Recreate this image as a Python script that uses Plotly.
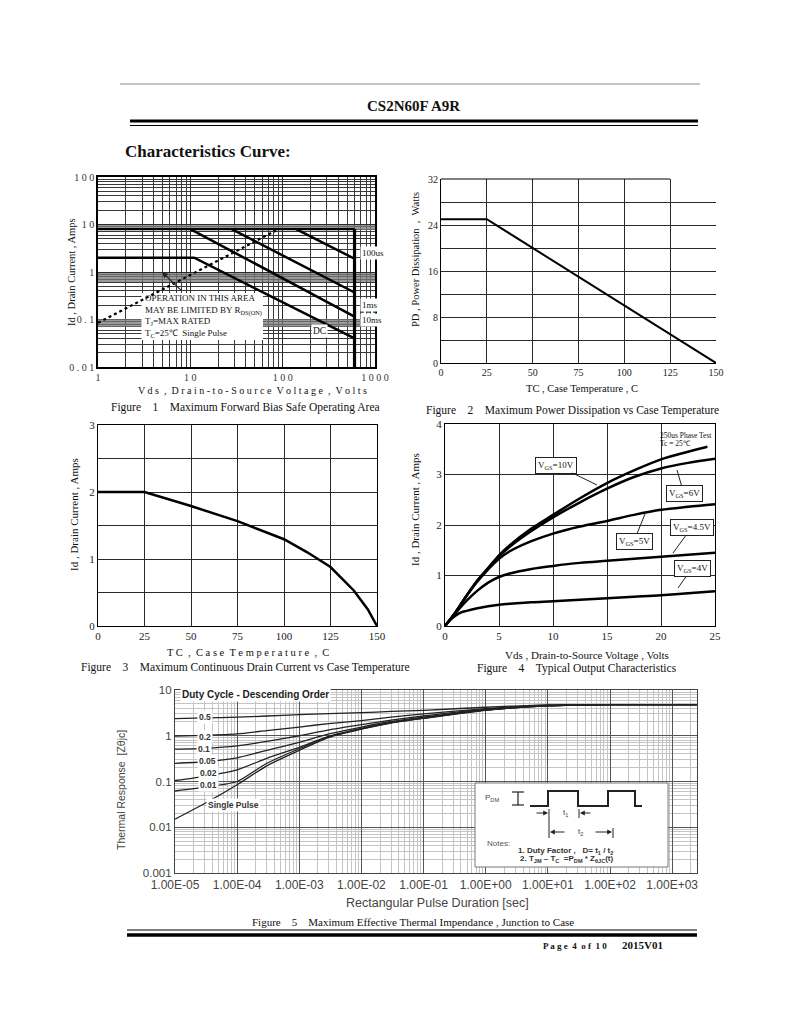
import math
import plotly.graph_objects as go

W, H = 800, 1035
OFF = 8  # page body margin of the html page
SERIF = "Liberation Serif, Times New Roman, serif"
SANS = "Liberation Sans, Arial, sans-serif"
NARROW = "Liberation Sans Narrow, Liberation Sans, Arial, sans-serif"

# ---------------- data ----------------
# Figure 1 : Safe operating area (log-log)
soa_vds_ticks = [1, 10, 100, 1000]
soa_vds_labels = ["1", "1 0", "1 0 0", "1 0 0 0"]
soa_id_ticks = [0.01, 0.1, 1, 10, 100]
soa_id_labels = ["0 . 0 1", "0 . 1", "1", "1 0", "1 0 0"]
rds_vds = [1, 85]
rds_id = [0.085, 7.5]
idm_vds = [1, 600]
idm_id = [8, 8]
bv_vds = [600, 600]
bv_id = [0.01, 8]
us100_vds = [140, 600]
us100_id = [8, 1.9]
ms1_vds = [28, 600]
ms1_id = [8, 0.37]
ms10_vds = [10, 600]
ms10_id = [8, 0.115]
dc_vds = [1, 11, 600]
dc_id = [2, 2, 0.04]

# Figure 2 : power dissipation
pd_tc = [0, 25, 150]
pd_watts = [25, 25, 0]
temp_ticks = [0, 25, 50, 75, 100, 125, 150]

# Figure 3 : continuous drain current
id_tc = [0, 25, 50, 75, 100, 112.5, 125, 137.5, 145, 150]
id_amps = [2, 2, 1.79, 1.565, 1.295, 1.1, 0.88, 0.53, 0.25, 0]

# Figure 4 : output characteristics
vds_10v = [0, 1, 2, 3, 4, 5, 6, 8, 10, 12.5, 15, 17.5, 20, 22.5, 24.3]
id_10v = [0, 0.28, 0.6, 0.9, 1.15, 1.4, 1.6, 1.93, 2.2, 2.53, 2.83, 3.08, 3.3, 3.45, 3.55]
vds_6v = [0, 1, 2, 3, 4, 5, 6, 8, 10, 12.5, 15, 17.5, 20, 22.5, 25]
id_6v = [0, 0.28, 0.6, 0.9, 1.14, 1.38, 1.57, 1.88, 2.15, 2.45, 2.72, 2.95, 3.12, 3.23, 3.31]
vds_5v = [0, 1, 2, 3, 4, 5, 6, 8, 10, 12.5, 15, 17.5, 20, 22.5, 25]
id_5v = [0, 0.28, 0.6, 0.88, 1.12, 1.33, 1.48, 1.68, 1.83, 1.97, 2.08, 2.2, 2.3, 2.36, 2.41]
vds_45v = [0, 1, 2, 3, 4, 5, 6, 8, 10, 12.5, 15, 17.5, 20, 22.5, 25]
id_45v = [0, 0.26, 0.5, 0.7, 0.86, 0.97, 1.04, 1.13, 1.19, 1.25, 1.29, 1.33, 1.37, 1.41, 1.45]
vds_4v = [0, 0.5, 1, 1.5, 2, 3, 4, 5, 6, 8, 10, 12.5, 15, 17.5, 20, 22.5, 25]
id_4v = [0, 0.12, 0.21, 0.27, 0.3, 0.35, 0.39, 0.42, 0.44, 0.47, 0.49, 0.52, 0.55, 0.58, 0.61, 0.65, 0.69]

# Figure 5 : transient thermal impedance
zth_t = [1e-5, 3e-5, 1e-4, 3e-4, 1e-3, 3e-3, 1e-2, 3e-2, 1e-1, 1, 10, 100, 1000, 2500]
zth_d05 = [2.37, 2.45, 2.55, 2.7, 2.9, 3.05, 3.2, 3.4, 3.6, 4.2, 4.75, 4.8, 4.8, 4.8]
zth_d02 = [0.98, 1.02, 1.1, 1.3, 1.55, 1.85, 2.15, 2.55, 3.0, 3.9, 4.65, 4.8, 4.8, 4.8]
zth_d01 = [0.51, 0.53, 0.6, 0.75, 1.0, 1.35, 1.75, 2.2, 2.7, 3.8, 4.6, 4.8, 4.8, 4.8]
zth_d005 = [0.25, 0.27, 0.33, 0.48, 0.72, 1.1, 1.55, 2.05, 2.55, 3.7, 4.55, 4.8, 4.8, 4.8]
zth_d002 = [0.105, 0.13, 0.18, 0.32, 0.56, 0.98, 1.45, 1.95, 2.45, 3.65, 4.5, 4.8, 4.8, 4.8]
zth_d001 = [0.062, 0.075, 0.1, 0.25, 0.52, 0.95, 1.42, 1.92, 2.42, 3.62, 4.5, 4.8, 4.8, 4.8]
zth_single = [0.015, 0.033, 0.085, 0.22, 0.48, 0.92, 1.4, 1.9, 2.4, 3.6, 4.5, 4.8, 4.8, 4.8]
zth_xticks = [1e-5, 1e-4, 1e-3, 1e-2, 1e-1, 1, 10, 100, 1000]
zth_xlabels = ["1.00E-05", "1.00E-04", "1.00E-03", "1.00E-02", "1.00E-01",
               "1.00E+00", "1.00E+01", "1.00E+02", "1.00E+03"]
zth_yticks = [0.001, 0.01, 0.1, 1, 10]
zth_ylabels = ["0.001", "0.01", "0.1", "1", "10"]


# ---------------- helpers ----------------
def X(p):
    return (p - OFF) / W


def Y(p):
    return 1 - (p - OFF) / H


def log_minor(lo, hi):
    return [m * 10 ** k for k in range(lo, hi) for m in range(2, 10)]


def spaced(s):
    return "\u00a0\u00a0".join(" ".join(list(w)) for w in s.split(" "))


def line(x, y, ax, width=2.5, color="black", dash=None):
    return go.Scatter(x=x, y=y, xaxis=ax[0], yaxis=ax[1], mode="lines",
                      line=dict(color=color, width=width, dash=dash),
                      hoverinfo="skip", showlegend=False)


annotations = []


def text(t, x, y, size=10, family=SERIF, color="#111", xanchor="center",
         yanchor="middle", angle=0, bg=None, align="center", **kw):
    a = dict(text=t, x=X(x), y=Y(y), xref="paper", yref="paper",
             showarrow=False, font=dict(size=size, family=family, color=color),
             xanchor=xanchor, yanchor=yanchor, textangle=angle, align=align)
    if bg:
        a["bgcolor"] = bg
    a.update(kw)
    annotations.append(a)


def arrow(tx, ty, ax, ay, head=2, width=1, color="#222", size=1):
    annotations.append(dict(text="", x=X(tx), y=Y(ty), xref="paper", yref="paper",
                            showarrow=True, ax=ax, ay=ay, arrowhead=head,
                            arrowwidth=width, arrowcolor=color, arrowsize=size))


shapes = []


def rect(x0, y0, x1, y1, fill=None, lc=None, lw=0, layer="between"):
    shapes.append(dict(type="rect", xref="paper", yref="paper",
                       x0=X(x0), x1=X(x1), y0=Y(y1), y1=Y(y0),
                       fillcolor=fill, line=dict(color=lc or "rgba(0,0,0,0)", width=lw),
                       layer=layer))


# fig 1 plot-area pixel box; decoration drawn inside the subplot (between grid and curves)
F1 = (98, 375, 177, 367)


def f1x(p):
    L, R, T, B = F1
    return 10 ** ((p - L) / (R - L) * 3)


def f1y(p):
    L, R, T, B = F1
    return 10 ** (2 - (p - T) / (B - T) * 4)


def rect1(x0, y0, x1, y1, fill):
    shapes.append(dict(type="rect", xref="x", yref="y",
                       x0=f1x(x0), x1=f1x(x1), y0=f1y(y1), y1=f1y(y0),
                       fillcolor=fill, line=dict(width=0), layer="between"))


def hline(x0, x1, y, color="black", w=1, layer="above", dash=None):
    shapes.append(dict(type="line", xref="paper", yref="paper", x0=X(x0), x1=X(x1),
                       y0=Y(y), y1=Y(y), line=dict(color=color, width=w, dash=dash),
                       layer=layer))


def vline(x, y0, y1, color="black", w=1, layer="above"):
    shapes.append(dict(type="line", xref="paper", yref="paper", x0=X(x), x1=X(x),
                       y0=Y(y0), y1=Y(y1), line=dict(color=color, width=w), layer=layer))


traces = []
# Fig 1
A1 = ("x", "y")
traces += [line(idm_vds, idm_id, A1, 2.2),
           line(bv_vds, bv_id, A1, 3.2),
           line(us100_vds, us100_id, A1, 2.5),
           line(ms1_vds, ms1_id, A1, 2.5),
           line(ms10_vds, ms10_id, A1, 2.5),
           line(dc_vds, dc_id, A1, 2.5),
           line(rds_vds, rds_id, A1, 2.2, dash="dot")]
# Fig 2
A2 = ("x2", "y2")
traces.append(line(pd_tc, pd_watts, A2, 2))
# Fig 3
A3 = ("x3", "y3")
traces.append(line(id_tc, id_amps, A3, 2.5))
# Fig 4
A4 = ("x4", "y4")
for vx, vy in [(vds_10v, id_10v), (vds_6v, id_6v), (vds_5v, id_5v),
               (vds_45v, id_45v), (vds_4v, id_4v)]:
    tr = line(vx, vy, A4, 2.5)
    tr.line.shape = "spline"
    traces.append(tr)
# Fig 5
A5 = ("x5", "y5")
for zy in [zth_d05, zth_d02, zth_d01, zth_d005, zth_d002, zth_d001, zth_single]:
    tr = line(zth_t, zy, A5, 1.3, color="#222")
    tr.line.shape = "spline"
    tr.line.smoothing = 0.6
    traces.append(tr)

fig = go.Figure(data=traces)

GRID = "#2a2a2a"
tick_serif = dict(family=SERIF, size=10, color="#222")

axes = dict(
    # Fig 1
    xaxis=dict(domain=[X(98), X(375)], anchor="y", type="log", range=[0, 3],
               tickmode="array", tickvals=soa_vds_ticks, ticktext=soa_vds_labels,
               showgrid=True, gridcolor=GRID, gridwidth=1,
               minor=dict(tickmode="array", tickvals=log_minor(0, 3), showgrid=True,
                          gridcolor="#3a3a3a", gridwidth=1),
               showline=True, linecolor="black", linewidth=1.5, mirror=True,
               ticks="", zeroline=False, tickfont=dict(family=SERIF, size=10, color="#333")),
    yaxis=dict(domain=[Y(367), Y(177)], anchor="x", type="log", range=[-2, 2],
               tickmode="array", tickvals=soa_id_ticks, ticktext=soa_id_labels,
               showgrid=True, gridcolor=GRID, gridwidth=1,
               minor=dict(tickmode="array", tickvals=log_minor(-2, 2), showgrid=True,
                          gridcolor="#3a3a3a", gridwidth=1),
               showline=True, linecolor="black", linewidth=1.5, mirror=True,
               ticks="", zeroline=False, tickfont=dict(family=SERIF, size=10, color="#333")),
    # Fig 2
    xaxis2=dict(domain=[X(441), X(716)], anchor="y2", range=[0, 150],
                tickmode="array", tickvals=temp_ticks, showgrid=True, gridcolor=GRID,
                gridwidth=1.2, showline=True, linecolor="black", linewidth=1.2,
                ticks="", zeroline=False, tickfont=tick_serif),
    yaxis2=dict(domain=[Y(363), Y(179)], anchor="x2", range=[0, 32], dtick=8,
                showgrid=True, gridcolor=GRID, gridwidth=1.2,
                minor=dict(dtick=4, showgrid=True, gridcolor=GRID, gridwidth=1.2),
                showline=True, linecolor="black", linewidth=1.2,
                ticks="", zeroline=False, tickfont=tick_serif),
    # Fig 3
    xaxis3=dict(domain=[X(98), X(377)], anchor="y3", range=[0, 150],
                tickmode="array", tickvals=temp_ticks, showgrid=True, gridcolor=GRID,
                gridwidth=1.2, showline=True, linecolor="black", linewidth=1.2,
                mirror=True, ticks="", zeroline=False,
                tickfont=dict(family=SERIF, size=11, color="#222")),
    yaxis3=dict(domain=[Y(626), Y(425)], anchor="x3", range=[0, 3], dtick=1,
                showgrid=True, gridcolor=GRID, gridwidth=1.2,
                minor=dict(dtick=0.5, showgrid=True, gridcolor=GRID, gridwidth=1.2),
                showline=True, linecolor="black", linewidth=1.2, mirror=True,
                ticks="", zeroline=False, tickfont=dict(family=SERIF, size=11, color="#222")),
    # Fig 4
    xaxis4=dict(domain=[X(445), X(715)], anchor="y4", range=[0, 25], dtick=5,
                showgrid=True, gridcolor=GRID, gridwidth=1.2, showline=True,
                linecolor="black", linewidth=1.2, mirror=True, ticks="",
                zeroline=False, tickfont=dict(family=SERIF, size=11, color="#222")),
    yaxis4=dict(domain=[Y(626), Y(424)], anchor="x4", range=[0, 4], dtick=1,
                showgrid=True, gridcolor=GRID, gridwidth=1.2, showline=True,
                linecolor="black", linewidth=1.2, mirror=True, ticks="",
                zeroline=False, tickfont=dict(family=SERIF, size=11, color="#222")),
    # Fig 5
    xaxis5=dict(domain=[X(175), X(697)], anchor="y5", type="log", range=[-5, 3.4],
                tickmode="array", tickvals=zth_xticks, ticktext=zth_xlabels,
                showgrid=True, gridcolor="#555", gridwidth=1.2,
                minor=dict(tickmode="array", tickvals=log_minor(-5, 4), showgrid=True,
                           gridcolor="#c4c4c4", gridwidth=1),
                showline=True, linecolor="#444", linewidth=1.2, mirror=True,
                ticks="", zeroline=False, tickfont=dict(family=SANS, size=12, color="#444")),
    yaxis5=dict(domain=[Y(873), Y(690)], anchor="x5", type="log", range=[-3, 1],
                tickmode="array", tickvals=zth_yticks, ticktext=zth_ylabels,
                showgrid=True, gridcolor="#555", gridwidth=1.2,
                minor=dict(tickmode="array", tickvals=log_minor(-3, 1), showgrid=True,
                           gridcolor="#c4c4c4", gridwidth=1),
                showline=True, linecolor="#444", linewidth=1.2, mirror=True,
                ticks="", zeroline=False, tickfont=dict(family=SANS, size=11.5, color="#444")),
)
for k in axes:
    axes[k]["automargin"] = False

# ---------------- page decoration ----------------
hline(120, 700, 84, "#8a8a8a", 1)
text("<b>CS2N60F A9R</b>", 414, 106, size=15)
hline(130, 698, 121, "black", 3)
hline(130, 698, 125.5, "black", 1.2)
text("<b>Characteristics Curve:</b>", 123, 152, size=17, xanchor="left")
hline(127, 697, 930, "black", 1.2)
hline(127, 697, 935, "black", 3.5)
text("<b>P a g e  4  o f  1 0</b>", 575, 946, size=9)
text("<b>2015V01</b>", 642, 945, size=11)

NB4 = "\u00a0" * 4
# captions
text("Figure" + NB4 + "1" + NB4 + "Maximum Forward Bias Safe Operating Area", 245, 408, size=11.5)
text("Figure" + NB4 + "2" + NB4 + "Maximum Power Dissipation vs Case Temperature", 572, 410, size=11.5)
text("Figure" + NB4 + "3" + NB4 + "Maximum Continuous Drain Current vs Case Temperature", 245, 667, size=11.5)
text("Figure" + NB4 + "4" + NB4 + "Typical Output Characteristics", 577, 668, size=11.5)
text("Figure" + NB4 + "5" + NB4 + "Maximum Effective Thermal Impendance , Junction to Case", 413, 922, size=11)

# ---------------- Fig 1 decoration ----------------
for (y0, y1) in [(225, 230), (273, 282), (319, 327)]:
    rect1(98, y0, 375, y1, "rgba(120,120,120,0.75)")
rect1(141.5, 293, 263, 340, "white")
text("OPERATION IN THIS AREA<br>MAY BE LIMITED BY R<sub>DS(ON)</sub><br>"
     "T<sub>J</sub>=MAX RATED<br>T<sub>C</sub>=25\u2103  Single Pulse",
     143, 290.5, size=9, xanchor="left", yanchor="top", align="left")
arrow(162, 272, 21, 20, head=2, width=1.2, size=1)
text("100us", 360, 253, size=9, xanchor="left", bg="white")
text("1ms", 360, 305, size=9, xanchor="left", bg="white")
hline(361, 377, 312, "#333", 1.5, dash="dot")
text("10ms", 360, 320, size=9, xanchor="left", bg="white")
text("DC", 319, 331, size=9.5, bg="white")
text("Id , Drain Current , Amps", 72, 272, size=10.5, angle=-90)
text(spaced("Vds , Drain-to-Source Voltage , Volts"), 252, 390, size=10)

# ---------------- Fig 2 ----------------
hline(441, 670, 179, "black", 1.2)
text("PD , Power Dissipation  ,  Watts", 415, 260, size=10.5, angle=-90)
text("TC , Case Temperature , C", 582, 389, size=10.5)

# ---------------- Fig 3 ----------------
text("Id , Drain Current , Amps", 74, 515, size=11, angle=-90)
text(spaced("TC , Case Temperature , C"), 248, 652, size=10.5)

# ---------------- Fig 4 ----------------
text("Id , Drain Current , Amps", 415, 510, size=11, angle=-90)
text("Vds , Drain-to-Source Voltage , Volts", 587, 655, size=11)
text("250us Phase Test", 658, 435, size=7.5, xanchor="left")
text("Tc = 25\u2103", 658, 444, size=7.5, xanchor="left")
for lab, tx, ty, axo, ayo in [("10V", 597, 485, -41, -20), ("6V", 677, 470, 7, 24),
                             ("5V", 645, 514, -11, 27), ("4.5V", 673, 553, 19, -26),
                             ("4V", 678, 588, 14, -20)]:
    annotations.append(dict(text="V<sub>GS</sub>=" + lab, x=X(tx), y=Y(ty), xref="paper",
                            yref="paper", showarrow=True, ax=axo, ay=ayo, arrowhead=0,
                            arrowwidth=1, arrowcolor="#222", bgcolor="white",
                            bordercolor="#222", borderwidth=1, borderpad=2,
                            font=dict(family=SERIF, size=9, color="#111")))

# ---------------- Fig 5 ----------------
text("<b>Duty Cycle - Descending Order</b>", 180, 694, size=10, family=SANS,
     xanchor="left", bg="white", color="#222")
for lab, lx, ly in [("0.5", 205, 717), ("0.2", 205, 736.5), ("0.1", 204, 748.5),
                    ("0.05", 207, 760.5), ("0.02", 208, 773), ("0.01", 208, 785),
                    ("Single Pulse", 233, 804.5)]:
    text("<b>" + lab + "</b>", lx, ly, size=8.5, family=SANS, bg="white", color="#333")
text("Thermal Response  [Z\u03b8jc]", 121, 790, size=10.5, family=NARROW, angle=-90, color="#444")
text("Rectangular Pulse Duration [sec]", 437, 903, size=12.5, family=SANS, color="#444")

# inset
rect(475, 783, 668, 867, fill="white", lc="#777", lw=1, layer="above")
text("P<sub>DM</sub>", 492, 798, size=8, family=SANS, color="#444")
vline(518, 792, 805, "#222", 1.2)
hline(512, 524, 792, "#222", 1.2)
hline(512, 524, 805, "#222", 1.2)
shapes.append(dict(type="path", xref="paper", yref="paper", layer="above",
                   path="M {} {} L {} {} L {} {} L {} {} L {} {} L {} {} L {} {} L {} {} L {} {} L {} {}".format(
                       X(530), Y(806), X(548), Y(806), X(548), Y(791), X(578), Y(791),
                       X(578), Y(806), X(608), Y(806), X(608), Y(791), X(635), Y(791),
                       X(635), Y(806), X(642), Y(806)),
                   line=dict(color="#222", width=2)))
vline(549, 809, 838, "#222", 1)
vline(579, 809, 818, "#222", 1)
vline(613, 828, 838, "#222", 1)
arrow(548, 813, -13, 0, head=2, width=1.2, size=0.8)
arrow(580, 813, 12, 0, head=2, width=1.2, size=0.8)
arrow(550, 832, 16, 0, head=2, width=1.2, size=0.8)
arrow(612, 832, -18, 0, head=2, width=1.2, size=0.8)
text("t<sub>1</sub>", 565, 813, size=8, family=SANS, color="#444")
text("t<sub>2</sub>", 580, 832, size=8, family=SANS, color="#444")
text("Notes:", 485, 843, size=8, family=SANS, color="#555", xanchor="left")
text("<b>1. Duty Factor ,   D= t<sub>1</sub> / t<sub>2</sub></b>", 516, 851, size=8,
     family=SANS, color="#333", xanchor="left")
text("<b>2. T<sub>JM</sub> \u2013 T<sub>C</sub>  =P<sub>DM</sub> * Z<sub>\u03b8JC</sub>(t)</b>",
     518, 859, size=8, family=SANS, color="#333", xanchor="left")

fig.update_layout(
    width=W, height=H, autosize=False,
    margin=dict(l=0, r=0, t=0, b=0, autoexpand=False),
    paper_bgcolor="white", plot_bgcolor="white",
    showlegend=False,
    annotations=annotations, shapes=shapes,
    **axes,
)
fig.write_html("out.html")
